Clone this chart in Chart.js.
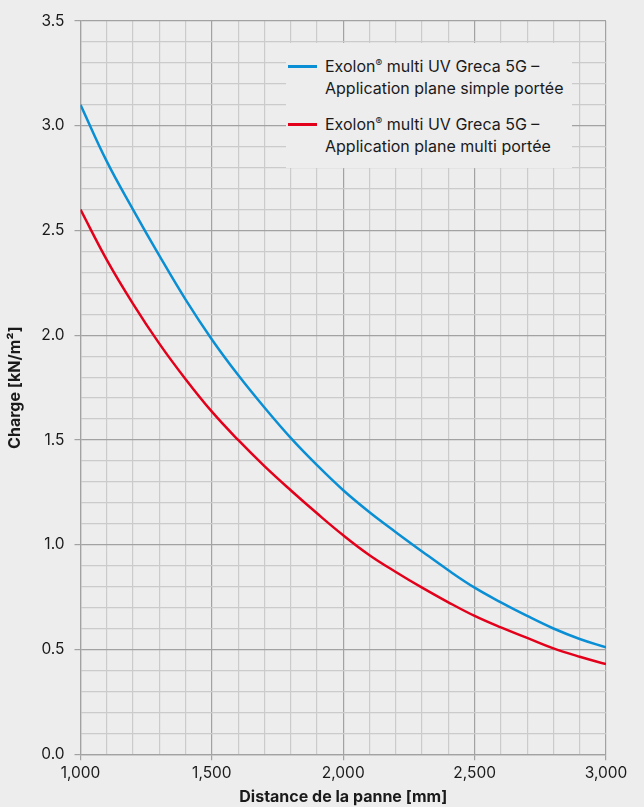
<!DOCTYPE html>
<html>
<head>
<meta charset="utf-8">
<script src="https://cdn.jsdelivr.net/npm/chart.js@4/dist/chart.umd.min.js"></script>
<style>
  html, body { margin: 0; padding: 0; background: #ededed; }
  #wrap { position: relative; width: 644px; height: 807px; background: #ededed; }
  #legend {
    position: absolute; left: 286px; top: 43px; width: 286px; height: 125px;
    background: #ededed; font-family: Inter, "Noto Sans", sans-serif; font-size: 16px;
    color: #1a1a1a; line-height: 22px;
  }
  .item { position: absolute; left: 2px; }
  .item .swatch { position: absolute; left: 0; top: 10px; width: 29px; height: 3px; }
  .item .txt { position: absolute; left: 37px; top: 0; white-space: nowrap; }
  sup { font-size: 10px; vertical-align: 5px; line-height: 0; }
</style>
</head>
<body>
<div id="wrap">
  <canvas id="chart"></canvas>
  <div id="legend"></div>
</div>
<script>
// values
const distance = [1000, 1100, 1200, 1300, 1400, 1500, 1600, 1700, 1800, 1900, 2000,
                  2100, 2200, 2300, 2400, 2500, 2600, 2700, 2800, 2900, 3000];
const simpleSpan = [3.10, 2.83, 2.60, 2.38, 2.17, 1.98, 1.81, 1.655, 1.51, 1.38, 1.26,
                    1.155, 1.06, 0.968, 0.878, 0.795, 0.725, 0.66, 0.60, 0.55, 0.51];
const multiSpan = [2.60, 2.36, 2.15, 1.96, 1.79, 1.635, 1.50, 1.375, 1.26, 1.15, 1.045,
                   0.95, 0.87, 0.795, 0.725, 0.66, 0.605, 0.555, 0.505, 0.465, 0.43];
const seriesNames = ['Exolon® multi UV Greca 5G –\nApplication plane simple portée',
                     'Exolon® multi UV Greca 5G –\nApplication plane multi portée'];
const seriesColors = ['#0a8fd5', '#e3001b'];

const majorGrid = '#a2a2a2';
const minorGrid = '#cbcbcb';
const fontFamily = 'Inter, "Noto Sans", sans-serif';

function isMajorX(v) { return v % 500 === 0; }
function isMajorY(v) { return Math.abs(v * 2 - Math.round(v * 2)) < 1e-6; }

const toPoints = (ys) => ys.map((y, i) => ({ x: distance[i], y: y }));

const ctx = document.getElementById('chart').getContext('2d');
const chart = new Chart(ctx, {
    type: 'line',
    data: {
        datasets: [
            {
                label: seriesNames[0],
                data: toPoints(simpleSpan),
                borderColor: seriesColors[0],
                borderWidth: 2.5,
                pointRadius: 0,
                tension: 0.4
            },
            {
                label: seriesNames[1],
                data: toPoints(multiSpan),
                borderColor: seriesColors[1],
                borderWidth: 2.5,
                pointRadius: 0,
                tension: 0.4
            }
        ]
    },
    options: {
        responsive: true,
        maintainAspectRatio: false,
        animation: false,
        layout: { padding: { top: 21, right: 38, bottom: 0, left: 6 } },
        plugins: {
            legend: { display: false },
            tooltip: { enabled: false }
        },
        scales: {
            x: {
                type: 'linear',
                min: 1000,
                max: 3000,
                ticks: {
                    stepSize: 100,
                    autoSkip: false,
                    maxRotation: 0,
                    color: '#1a1a1a',
                    font: { family: fontFamily, size: 15.5 },
                    padding: 4,
                    callback: (v) => isMajorX(v) ? v.toLocaleString('en-US') : ''
                },
                grid: {
                    color: (c) => isMajorX(c.tick.value) ? majorGrid : minorGrid,
                    tickColor: (c) => isMajorX(c.tick.value) ? majorGrid : 'rgba(0,0,0,0)',
                    tickLength: 6,
                    lineWidth: 1.2
                },
                border: { color: majorGrid, width: 1.2 },
                title: {
                    display: true,
                    text: 'Distance de la panne [mm]',
                    color: '#1a1a1a',
                    font: { family: fontFamily, size: 16, weight: 'bold' },
                    padding: { top: 1, bottom: 0 }
                }
            },
            y: {
                min: 0,
                max: 3.5,
                ticks: {
                    stepSize: 0.1,
                    autoSkip: false,
                    color: '#1a1a1a',
                    font: { family: fontFamily, size: 15.5 },
                    padding: 10,
                    callback: (v) => isMajorY(v) ? v.toFixed(1) : ''
                },
                grid: {
                    color: (c) => isMajorY(c.tick.value) ? majorGrid : minorGrid,
                    tickColor: (c) => isMajorY(c.tick.value) ? majorGrid : 'rgba(0,0,0,0)',
                    tickLength: 6,
                    lineWidth: 1.2
                },
                border: { color: majorGrid, width: 1.2 },
                title: {
                    display: true,
                    text: 'Charge [kN/m²]',
                    color: '#1a1a1a',
                    font: { family: fontFamily, size: 16, weight: 'bold' },
                    padding: { top: 0, bottom: 6 }
                }
            }
        }
    }
});

// legend drawn as html on top of the plot
const legend = document.getElementById('legend');
seriesNames.forEach((name, i) => {
    const item = document.createElement('div');
    item.className = 'item';
    item.style.top = (12 + i * 58) + 'px';
    const lines = name.split('\n').map(s => s.replace('®', '<sup>®</sup>'));
    item.innerHTML = '<div class="swatch" style="background:' + seriesColors[i] + '"></div>' +
                     '<div class="txt">' + lines.join('<br>') + '</div>';
    legend.appendChild(item);
});
</script>
</body>
</html>
